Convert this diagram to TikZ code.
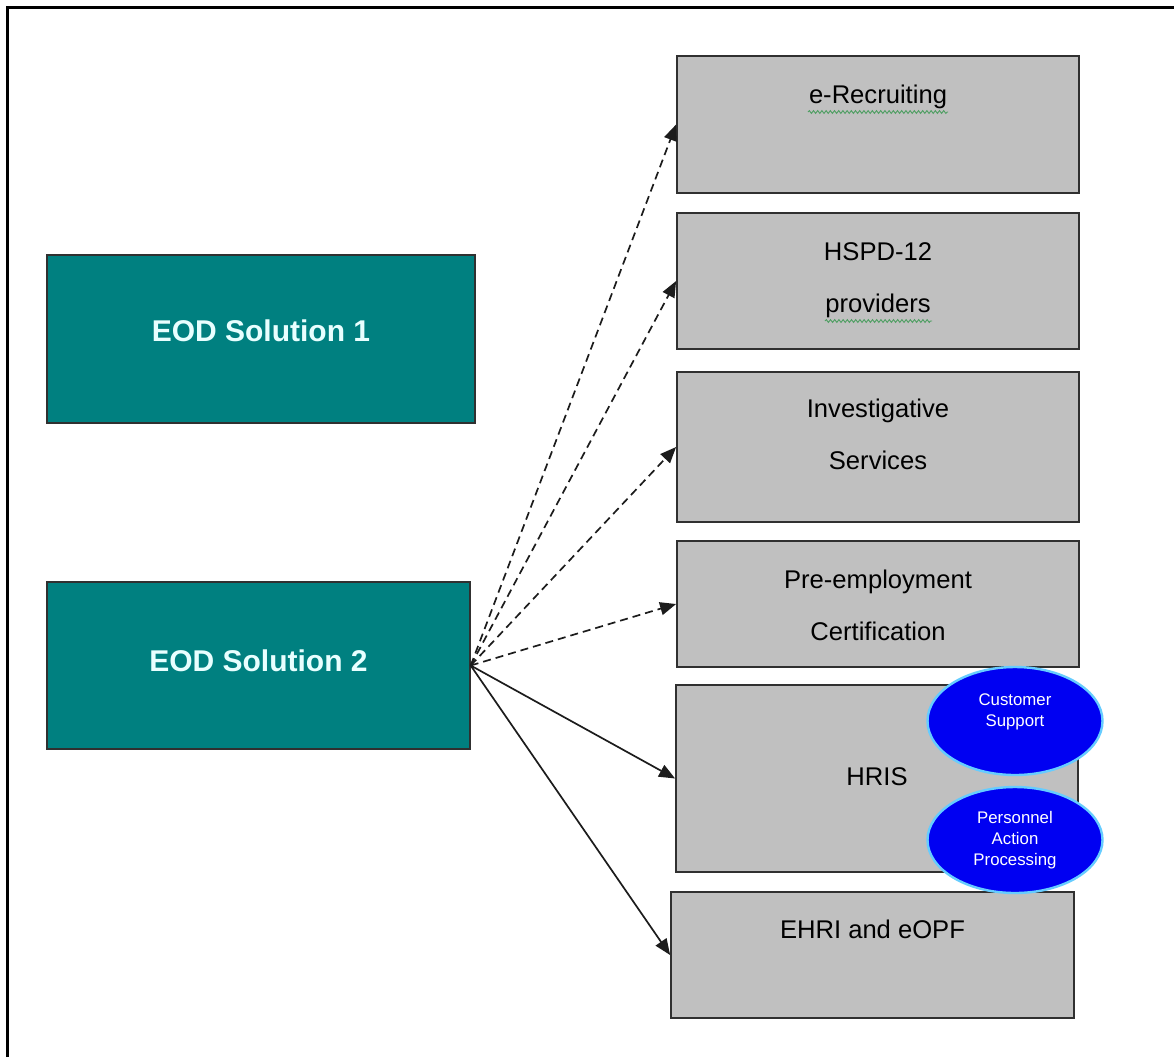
\documentclass[tikz,border=0pt]{standalone}
\usepackage{fontspec}
\setmainfont{Liberation Sans}
\usepackage{tikz}
\usetikzlibrary{arrows.meta,positioning,calc,shapes.geometric,decorations.pathmorphing}
\definecolor{Ink}{HTML}{1C1C1C}
\definecolor{Edge}{HTML}{303030}
\definecolor{Teal}{HTML}{008080}
\definecolor{TealText}{HTML}{E8FFFF}
\definecolor{Grey}{HTML}{C0C0C0}
\definecolor{Blue}{HTML}{0000F2}
\definecolor{BlueRim}{HTML}{66CCFF}
\definecolor{Spell}{HTML}{4E9E62}
\tikzset{
  solution/.style={draw=Edge,fill=Teal,line width=0.7pt,inner sep=0pt,minimum width=214pt,minimum height=84pt},
  solutiontext/.style={anchor=base,inner sep=0pt,text=TealText,font=\bfseries\fontsize{15}{18}\selectfont},
  service/.style={draw=Edge,fill=Grey,line width=0.9pt,inner sep=0pt,minimum width=201pt},
  servicetext/.style={anchor=base,inner sep=0pt,align=center,text=black,font=\fontsize{12.8}{26}\selectfont},
  bubble/.style={ellipse,draw=BlueRim,fill=Blue,line width=1.2pt,inner sep=0pt,minimum width=87.5pt},
  bubbletext/.style={anchor=base,inner sep=0pt,align=center,text=white,font=\fontsize{8.4}{10.5}\selectfont},
  link/.style={-{Triangle[length=8pt,width=6.5pt]},line width=0.85pt,draw=Ink},
  maybelink/.style={link,dash pattern=on 4pt off 2.5pt},
  spell/.style={draw=Spell,line width=0.45pt,decorate,decoration={snake,amplitude=0.7pt,segment length=2.1pt}},
  frame/.style={draw=black,line width=1.3pt}
}
\begin{document}
\begin{tikzpicture}[x=0.5pt,y=-0.5pt]
  \useasboundingbox (0,0) rectangle (1174,1057);
  \draw[frame] (7.5,1057) -- (7.5,7.5) -- (1174,7.5);
  % solutions on the left
  \node[solution] (sol1) at (261,339) {};
  \node[solutiontext] (sol1-t) at (261,341) {EOD Solution 1};
  \node[solution,minimum width=211.5pt,minimum height=83.5pt] (sol2) at (258.5,665.5) {};
  \node[solutiontext] (sol2-t) at (258.5,671) {EOD Solution 2};
  % services on the right
  \node[service,minimum height=68.5pt] (recruit) at (878,124.5) {};
  \node[service,minimum height=68pt] (hspd) at (878,281) {};
  \node[service,minimum height=75pt] (invest) at (878,447) {};
  \node[service,minimum height=63pt] (preemp) at (878,604) {};
  \node[service,minimum height=93.5pt] (hris) at (877,778.5) {};
  \node[service,minimum width=201.5pt,minimum height=63pt] (ehri) at (872.5,955) {};
  % base = last line
  \node[servicetext] (recruit-t) at (878,103) {e-Recruiting};
  \node[servicetext] (hspd-t) at (878,312) {HSPD-12\\providers};
  \node[servicetext] (invest-t) at (878,469) {Investigative\\Services};
  \node[servicetext] (preemp-t) at (878,640) {Pre-employment\\Certification};
  \node[servicetext] (hris-t) at (877,785) {HRIS};
  \node[servicetext] (ehri-t) at (872.5,938) {EHRI and eOPF};
  \draw[spell] (808,112) -- (948,112);
  \draw[spell] (825,321) -- (932,321);
  % links
  \foreach \t in {recruit,hspd,invest,preemp}
    \draw[maybelink] (sol2.east) -- (\t.west);
  \foreach \t in {hris,ehri}
    \draw[link] (sol2.east) -- (\t.west);
  % HRIS bubbles
  \node[bubble,minimum height=54pt] (support) at (1015,721) {};
  \node[bubbletext] (support-t) at (1015,726) {Customer\\Support};
  \node[bubble,minimum height=53pt] (pap) at (1015,840) {};
  \node[bubbletext] (pap-t) at (1015,865) {Personnel\\Action\\Processing};
\end{tikzpicture}
\end{document}
